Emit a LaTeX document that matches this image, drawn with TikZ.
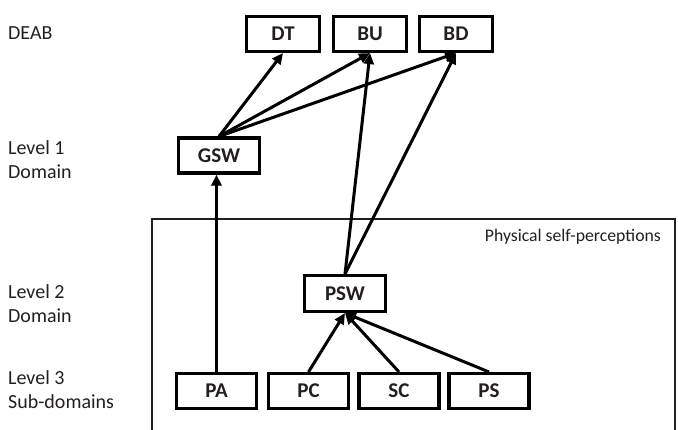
\documentclass[tikz,border=0pt]{standalone}
\usepackage{fontspec}
\setmainfont{Carlito}
\usetikzlibrary{arrows.meta}
\definecolor{txt}{HTML}{231F20}
\begin{document}
\begin{tikzpicture}[x=1pt,y=-1pt,
  box/.style={draw=black, line width=3.1pt, fill=white, inner sep=0pt,
    minimum width=73pt, minimum height=35pt, text=txt,
    font=\bfseries\fontsize{21}{24}\selectfont},
  lab/.style={anchor=west, align=left, inner sep=0pt, text=txt,
    font=\fontsize{20}{24}\selectfont},
  conn/.style={line width=3pt, -{Triangle[length=11pt,width=10pt]}, shorten >=0pt}]
\useasboundingbox (0,0) rectangle (678,429);
% frame
\draw[line width=1.2pt, draw=txt] (152,432) -- (152,219) -- (675,219) -- (675,432);
\node[anchor=east, inner sep=0pt, text=txt, font=\fontsize{17.7}{20}\selectfont] (pspcap) at (661,237) {Physical self-perceptions};
% left labels
\node[lab] (deab) at (8,33) {DEAB};
\node[lab] (lv1) at (8,160) {Level 1\\Domain};
\node[lab] (lv2) at (8,304) {Level 2\\Domain};
\node[lab] (lv3) at (8,390) {Level 3\\Sub-domains};
% boxes
\node[box] (dt) at (283,34) {DT};
\node[box] (bu) at (370,34) {BU};
\node[box] (bd) at (456,34) {BD};
\node[box, minimum width=81pt] (gsw) at (219,155.5) {GSW};
\node[box, minimum width=81pt, minimum height=36pt] (psw) at (345,293.5) {PSW};
\node[box, minimum width=80pt] (pa) at (216.5,391) {PA};
\node[box, minimum width=80pt] (pc) at (308.5,391) {PC};
\node[box, minimum width=80pt] (sc) at (399,391) {SC};
\node[box, minimum width=80pt] (ps) at (489,391) {PS};
% connectors
\draw[conn] (gsw.north) -- (dt.south);
\draw[conn] (gsw.north) -- (bu.south);
\draw[conn] (gsw.north) -- (bd.south);
\draw[conn] (psw.north) -- (bu.south);
\draw[conn] (psw.north) -- (bd.south);
\draw[conn] (pa.north) -- (pa.north |- gsw.south);
\draw[conn] (pc.north) -- (psw.south);
\draw[conn] (sc.north) -- (psw.south);
\draw[conn] (ps.north) -- (psw.south);
\end{tikzpicture}
\end{document}
